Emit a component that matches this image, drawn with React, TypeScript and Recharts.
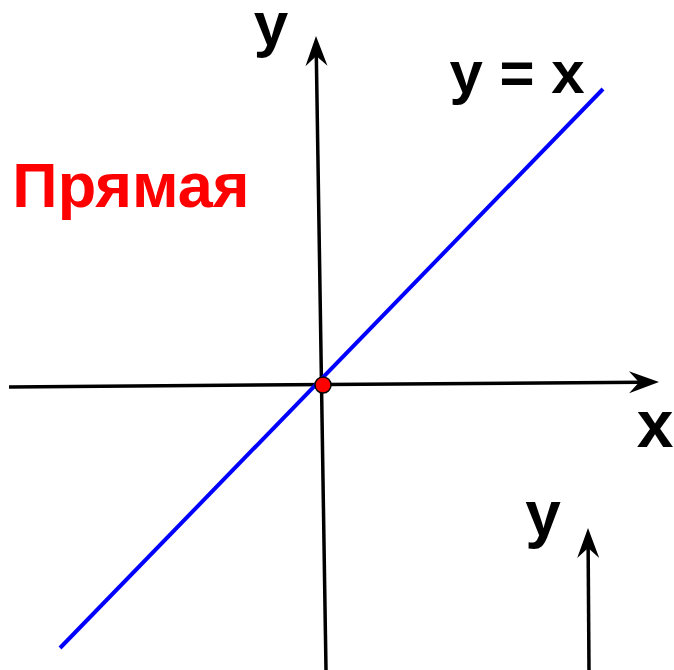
import React from 'react';
import { ComposedChart, Line, XAxis, YAxis, ReferenceLine, ReferenceDot } from 'recharts';

// Coordinates in chart units (origin at the axes' crossing)
const lineX = [-263, 280];
const lineY = [-263, 296];
const lineData = lineX.map((x, i) => ({ x, y: lineY[i] }));

const xAxisSeg = [{ x: -314, y: -2 }, { x: 336, y: 3 }];
const yAxisSeg = [{ x: 3, y: -285 }, { x: -7, y: 349 }];
const y2AxisSeg = [{ x: 266, y: -285 }, { x: 265, y: -143 }];

const origin = { x: 0, y: 0 };

const labelTexts = ['y', 'y = x', 'Прямая', 'x', 'y'];
const labelX = [-52, 194, -192, 332, 220];
const labelY = [340, 292, 178, -62, -151];
const labelSize = [62, 60, 63, 66, 64];
const labelColor = ['#000000', '#000000', '#ff0000', '#000000', '#000000'];

const FONT = 'Arial, "Liberation Sans", sans-serif';

const arrowShape = (props: any) => {
  const { x1, y1, x2, y2 } = props;
  const dx = x2 - x1;
  const dy = y2 - y1;
  const len = Math.sqrt(dx * dx + dy * dy) || 1;
  const ux = dx / len;
  const uy = dy / len;
  const px = -uy;
  const py = ux;
  const L = 30;
  const W = 11;
  const N = 20;
  const bx = x2 - ux * L;
  const by = y2 - uy * L;
  const nx = x2 - ux * N;
  const ny = y2 - uy * N;
  const pts = `${x2},${y2} ${bx + px * W},${by + py * W} ${nx},${ny} ${bx - px * W},${by - py * W}`;
  return (
    <g>
      <line x1={x1} y1={y1} x2={nx + ux * 2} y2={ny + uy * 2} stroke="#000" strokeWidth={3.5} />
      <polygon points={pts} fill="#000" />
    </g>
  );
};

const textShape = (i: number) => (props: any) => (
  <text
    x={props.cx}
    y={props.cy}
    textAnchor="middle"
    fontFamily={FONT}
    fontWeight="bold"
    fontSize={labelSize[i]}
    fill={labelColor[i]}
  >
    {labelTexts[i]}
  </text>
);

export default function App() {
  return (
    <div style={{ position: 'absolute', left: 0, top: 0, width: 674, height: 670, background: '#fff' }}>
      <ComposedChart width={674} height={670} margin={{ top: 0, right: 0, bottom: 0, left: 0 }}>
        <XAxis type="number" dataKey="x" domain={[-323, 351]} hide allowDataOverflow />
        <YAxis type="number" dataKey="y" domain={[-285, 385]} hide allowDataOverflow />
        <ReferenceLine segment={xAxisSeg} shape={arrowShape} ifOverflow="visible" />
        <ReferenceLine segment={yAxisSeg} shape={arrowShape} ifOverflow="visible" />
        <ReferenceLine segment={y2AxisSeg} shape={arrowShape} ifOverflow="visible" />
        <Line
          data={lineData}
          dataKey="y"
          stroke="#0000ff"
          strokeWidth={4}
          dot={false}
          activeDot={false}
          isAnimationActive={false}
        />
        <ReferenceDot x={origin.x} y={origin.y} r={8} fill="#ff0000" stroke="#000" strokeWidth={1.5} ifOverflow="visible" />
        {labelTexts.map((t, i) => (
          <ReferenceDot key={i} x={labelX[i]} y={labelY[i]} r={0} shape={textShape(i)} ifOverflow="visible" />
        ))}
      </ComposedChart>
    </div>
  );
}
